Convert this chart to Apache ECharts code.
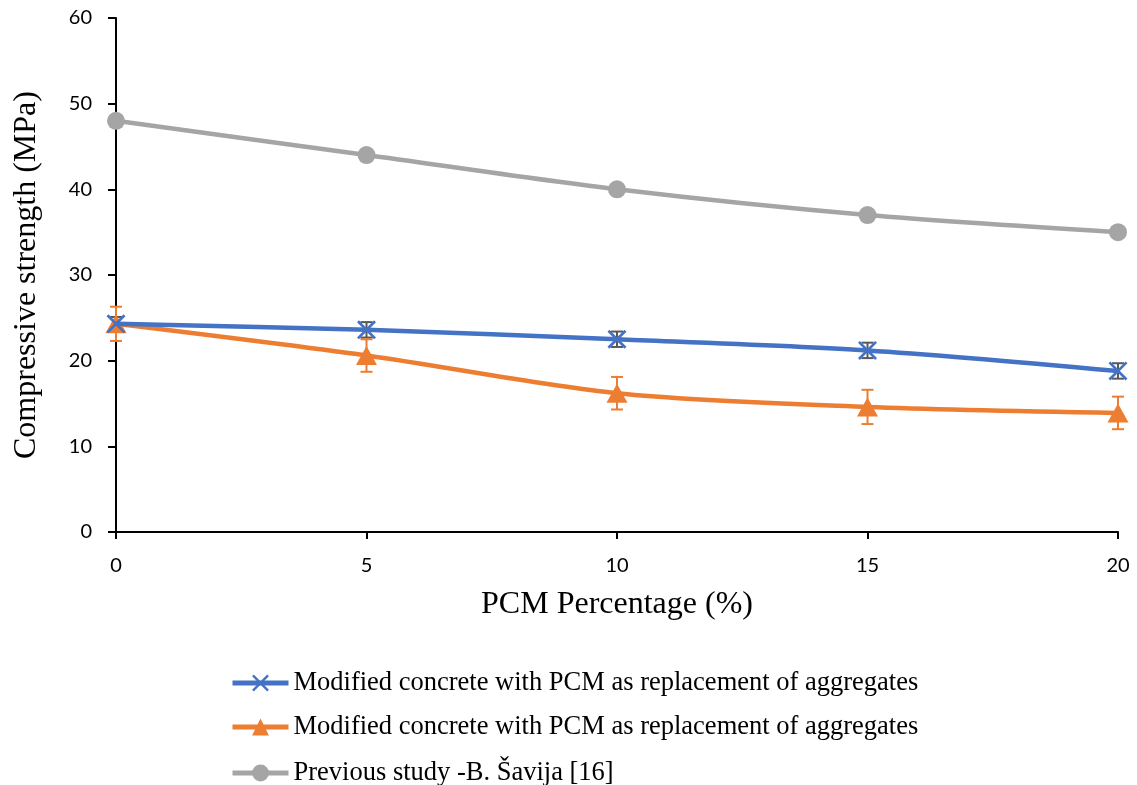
<!DOCTYPE html>
<html><head><meta charset="utf-8">
<script src="https://cdn.jsdelivr.net/npm/echarts@6/dist/echarts.min.js"></script>
<style>html,body{margin:0;padding:0;background:#fff}#c{width:1137px;height:785px}</style>
</head><body><div id="c"></div>
<script>
const xValues = [0, 5, 10, 15, 20];
const seriesNames = [
  "Modified concrete with PCM as replacement of aggregates",
  "Modified concrete with PCM as replacement of aggregates\u200B",
  "Previous study -B. Šavija [16]"
];
const blueValues = [24.3, 23.6, 22.5, 21.2, 18.8];
const blueErrors = [0.8, 0.9, 0.9, 0.9, 0.9];
const orangeValues = [24.3, 20.6, 16.2, 14.6, 13.9];
const orangeErrors = [2.0, 1.9, 1.9, 2.0, 1.9];
const grayValues = [48.0, 44.0, 40.0, 37.0, 35.0];

const FONT = "'Liberation Serif','Times New Roman',serif";
const TICKFONT = "Lato, 'Open Sans', sans-serif";
const pairs = (vals) => xValues.map((x, i) => [x, vals[i]]);
const errData = (vals, errs) => xValues.map((x, i) => [x, vals[i] - errs[i], vals[i] + errs[i]]);

function errRender(color) {
  return function (params, api) {
    const x = api.value(0);
    const lo = api.coord([x, api.value(1)]);
    const hi = api.coord([x, api.value(2)]);
    const cap = 6;
    const st = { stroke: color, lineWidth: 2 };
    return {
      type: 'group',
      children: [
        { type: 'line', shape: { x1: lo[0], y1: lo[1], x2: hi[0], y2: hi[1] }, style: st },
        { type: 'line', shape: { x1: lo[0] - cap, y1: lo[1], x2: lo[0] + cap, y2: lo[1] }, style: st },
        { type: 'line', shape: { x1: hi[0] - cap, y1: hi[1], x2: hi[0] + cap, y2: hi[1] }, style: st }
      ]
    };
  };
}

const xSymbol = 'path://M0,1L1,0L10,9L9,10Z M9,0L10,1L1,10L0,9Z';
const rowTops = [664, 708, 754];

const legendBase = {
  orient: 'vertical', left: 225,
  itemWidth: 56, itemHeight: 21, itemGap: 0,
  textStyle: { fontFamily: FONT, fontSize: 26.5, color: '#000', lineHeight: 28 },
  lineStyle: { width: 5 },
  selectedMode: false
};

const chart = echarts.init(document.getElementById('c'), null, { renderer: 'canvas' });
chart.setOption({
  animation: false,
  textStyle: { fontFamily: FONT },
  grid: { left: 116, right: 19, top: 18, bottom: 253, outerBoundsMode: 'none', containLabel: false },
  xAxis: {
    type: 'value', min: 0, max: 20, interval: 5,
    name: 'PCM Percentage (%)', nameLocation: 'middle', nameGap: 57,
    nameTextStyle: { fontFamily: FONT, fontSize: 32, color: '#000' },
    axisLine: { lineStyle: { color: '#000', width: 2 } },
    axisTick: { show: true, length: 7, lineStyle: { color: '#000', width: 2 } },
    axisLabel: { fontFamily: TICKFONT, fontSize: 20, color: '#000', margin: 24 },
    splitLine: { show: false }
  },
  yAxis: {
    type: 'value', min: 0, max: 60, interval: 10,
    name: 'Compressive strength (MPa)', nameLocation: 'middle', nameGap: 73, nameRotate: 90,
    nameTextStyle: { fontFamily: FONT, fontSize: 32, color: '#000' },
    axisLine: { show: true, lineStyle: { color: '#000', width: 2 } },
    axisTick: { show: true, length: 8, lineStyle: { color: '#000', width: 2 } },
    axisLabel: { fontFamily: TICKFONT, fontSize: 20, color: '#000', margin: 24 },
    splitLine: { show: false }
  },
  legend: seriesNames.map((n, i) => Object.assign({}, legendBase, { top: rowTops[i], data: [n] })),
  series: [
    {
      type: 'custom', name: 'errBlue', renderItem: errRender('#595959'),
      data: errData(blueValues, blueErrors), z: 1, silent: true,
      encode: { x: 0, y: [1, 2] }
    },
    {
      type: 'custom', name: 'errOrange', renderItem: errRender('#ED7D31'),
      data: errData(orangeValues, orangeErrors), z: 1, silent: true,
      encode: { x: 0, y: [1, 2] }
    },
    {
      type: 'line', name: seriesNames[0], data: pairs(blueValues), smooth: 0.3,
      symbol: xSymbol, symbolSize: 19, z: 3,
      lineStyle: { color: '#4472C4', width: 4.5 },
      itemStyle: { color: '#4472C4', borderWidth: 0 }
    },
    {
      type: 'line', name: seriesNames[1], data: pairs(orangeValues), smooth: 0.3,
      symbol: 'triangle', symbolSize: [21, 19], z: 2,
      lineStyle: { color: '#ED7D31', width: 4.5 },
      itemStyle: { color: '#ED7D31', borderWidth: 0 }
    },
    {
      type: 'line', name: seriesNames[2], data: pairs(grayValues), smooth: 0.3,
      symbol: 'circle', symbolSize: 18, z: 2,
      lineStyle: { color: '#A5A5A5', width: 4.5 },
      itemStyle: { color: '#A5A5A5', borderWidth: 0 }
    }
  ]
});
</script>
</body></html>
